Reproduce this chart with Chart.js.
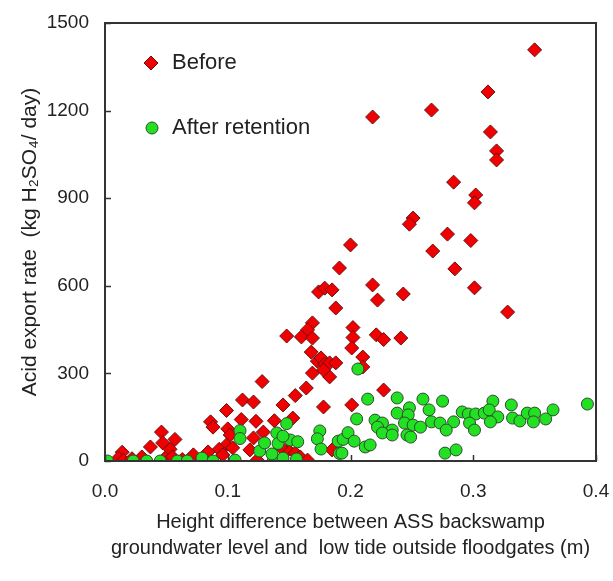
<!DOCTYPE html>
<html>
<head>
<meta charset="utf-8">
<script src="https://cdn.jsdelivr.net/npm/chart.js@4.4.0/dist/chart.umd.min.js"></script>
<style>
  html, body { margin: 0; padding: 0; background: #fff; }
  #wrap { width: 613px; height: 581px; }
</style>
</head>
<body>
<div id="wrap"><canvas id="chart" width="613" height="581"></canvas></div>
<script>
// Séries : [différence de hauteur (m), export d'acide (kg H2SO4/jour)]
const beforeX = [
  0.350, 0.312, 0.266, 0.218, 0.314, 0.319, 0.319, 0.284, 0.302, 0.301,
  0.251, 0.248, 0.279, 0.298, 0.200, 0.267, 0.191, 0.285, 0.218, 0.301,
  0.174, 0.179, 0.185, 0.243, 0.222, 0.188, 0.328, 0.202, 0.202, 0.201,
  0.221, 0.227, 0.241, 0.169, 0.165, 0.148, 0.160, 0.169, 0.210, 0.168,
  0.173, 0.176, 0.179, 0.183, 0.188, 0.210, 0.183, 0.169, 0.178, 0.227,
  0.201, 0.128, 0.164, 0.155, 0.112, 0.121, 0.145, 0.178, 0.099, 0.086,
  0.088, 0.111, 0.123, 0.138, 0.153, 0.046, 0.057, 0.037, 0.047, 0.053,
  0.014, 0.011, 0.030, 0.015, 0.072, 0.022, 0.049, 0.055, 0.100, 0.102,
  0.129, 0.121, 0.099, 0.104, 0.093, 0.084, 0.096, 0.118, 0.124, 0.149,
  0.155, 0.159, 0.165, 0.185, 0.143, 0.063, 0.080
]
const beforeY = [
  1408, 1264, 1202, 1178, 1127, 1062, 1031, 955, 911, 884,
  832, 811, 777, 755, 740, 719, 661, 658, 603, 593,
  579, 592, 586, 572, 551, 524, 510, 457, 423, 387,
  432, 416, 421, 473, 449, 428, 425, 421, 356, 373,
  342, 353, 332, 336, 336, 322, 288, 301, 312, 243,
  192, 272, 250, 224, 209, 202, 192, 185, 173, 134,
  116, 142, 136, 138, 147, 99, 74, 48, 62, 40,
  30, 10, 14, 2, 21, 8, 10, 14, 110, 89,
  99, 79, 55, 45, 40, 31, 21, 38, 3, 38,
  27, 14, 3, 38, 48, 5, 8
]

const afterX = [
  0.002, 0.023, 0.034, 0.045, 0.059, 0.067, 0.079, 0.088, 0.106, 0.137,
  0.145, 0.156, 0.110, 0.110, 0.126, 0.130, 0.140, 0.148, 0.141, 0.151,
  0.157, 0.136, 0.145, 0.175, 0.173, 0.176, 0.190, 0.194, 0.191, 0.198,
  0.206, 0.214, 0.238, 0.259, 0.275, 0.205, 0.248, 0.264, 0.238, 0.247,
  0.291, 0.220, 0.226, 0.244, 0.251, 0.257, 0.266, 0.273, 0.284, 0.278,
  0.222, 0.234, 0.226, 0.234, 0.246, 0.249, 0.203, 0.212, 0.216, 0.277,
  0.286, 0.193, 0.316, 0.331, 0.393, 0.296, 0.302, 0.309, 0.313, 0.320,
  0.314, 0.297, 0.301, 0.332, 0.338, 0.344, 0.350, 0.349, 0.359, 0.365
]
const afterY = [
  0, 0, 0, 0, 0, 0, 10, 0, 3, 0,
  10, 7, 104, 77, 34, 62, 96, 128, 60, 72,
  66, 24, 85, 103, 76, 41, 68, 74, 26, 97,
  315, 212, 216, 212, 205, 144, 182, 175, 164, 158,
  168, 140, 130, 130, 123, 116, 134, 130, 134, 106,
  116, 106, 96, 89, 89, 82, 68, 48, 55, 27,
  38, 27, 205, 192, 195, 161, 161, 164, 175, 151,
  134, 130, 106, 147, 137, 164, 164, 134, 144, 175
]

const seriesLabels = ["Before", "After retention"]
const xTicks = [0, 0.1, 0.2, 0.3, 0.4]
const yTicks = [0, 300, 600, 900, 1200, 1500]

const FONT = "'Liberation Sans', Arial, sans-serif"
const INK = "#222"

function toPoints(xs, ys) {
  return xs.map((x, i) => ({ x: x, y: ys[i] }))
}

// Cadre complet + petites graduations vers l'intérieur + légende dans le graphique
const framePlugin = {
  id: "frame",
  afterDraw(chart) {
    const { ctx, chartArea: a, scales } = chart
    ctx.save()
    ctx.strokeStyle = "#333"
    ctx.lineWidth = 2
    ctx.strokeRect(a.left, a.top, a.right - a.left, a.bottom - a.top)
    ctx.lineWidth = 1.5
    yTicks.forEach((v) => {
      const y = Math.round(scales.y.getPixelForValue(v)) + 0.5
      ctx.beginPath()
      ctx.moveTo(a.left, y)
      ctx.lineTo(a.left + 6, y)
      ctx.stroke()
    })
    xTicks.forEach((v) => {
      const x = Math.round(scales.x.getPixelForValue(v)) + 0.5
      ctx.beginPath()
      ctx.moveTo(x, a.bottom)
      ctx.lineTo(x, a.bottom - 6)
      ctx.stroke()
    })

    // légende
    const items = chart.data.datasets
    items.forEach((ds, i) => {
      const cx = a.left + 46
      const cy = a.top + 40 + i * 65
      ctx.fillStyle = ds.backgroundColor
      ctx.strokeStyle = ds.borderColor
      ctx.lineWidth = 1
      ctx.beginPath()
      if (ds.pointStyle === "rectRot") {
        const r = 7
        ctx.moveTo(cx, cy - r)
        ctx.lineTo(cx + r, cy)
        ctx.lineTo(cx, cy + r)
        ctx.lineTo(cx - r, cy)
        ctx.closePath()
      } else {
        ctx.arc(cx + 1, cy, 6, 0, Math.PI * 2)
      }
      ctx.fill()
      ctx.stroke()
      ctx.fillStyle = INK
      ctx.font = "22px " + FONT
      ctx.textBaseline = "middle"
      ctx.textAlign = "left"
      ctx.fillText(ds.label, cx + 21, cy)
    })
    ctx.restore()
  },
}

const ctx = document.getElementById("chart").getContext("2d")

new Chart(ctx, {
  type: "scatter",
  data: {
    datasets: [
      {
        label: seriesLabels[0],
        data: toPoints(beforeX, beforeY),
        pointStyle: "rectRot",
        pointRadius: 7,
        backgroundColor: "#f00000",
        borderColor: "#6a1010",
        borderWidth: 1,
        order: 2,
      },
      {
        label: seriesLabels[1],
        data: toPoints(afterX, afterY),
        pointStyle: "circle",
        pointRadius: 6,
        backgroundColor: "#22e022",
        borderColor: "#2e4a2e",
        borderWidth: 1,
        order: 1,
      },
    ],
  },
  options: {
    responsive: false,
    animation: false,
    layout: { padding: { top: 23, right: 17, left: 0, bottom: 0 } },
    plugins: {
      legend: { display: false },
      tooltip: { enabled: false },
    },
    scales: {
      x: {
        type: "linear",
        min: 0,
        max: 0.4,
        afterBuildTicks: (s) => { s.ticks = xTicks.map((v) => ({ value: v })) },
        afterFit: (s) => {
          s.height = 120
          s.paddingLeft = 0
          s.paddingRight = 0
        },
        grid: { display: false, drawTicks: false },
        border: { display: false },
        ticks: {
          padding: 19,
          color: INK,
          font: { family: FONT, size: 19 },
          callback: (v) => Number(v).toFixed(1),
        },
        title: {
          display: true,
          text: [
            "Height difference between ASS backswamp",
            "groundwater level and  low tide outside floodgates (m)",
          ],
          color: INK,
          font: { family: FONT, size: 20, lineHeight: 1.3 },
          padding: { top: 10, bottom: 20 },
        },
      },
      y: {
        type: "linear",
        min: 0,
        max: 1500,
        afterBuildTicks: (s) => { s.ticks = yTicks.map((v) => ({ value: v })) },
        afterFit: (s) => {
          s.width = 105
          s.paddingTop = 0
          s.paddingBottom = 0
        },
        grid: { display: false, drawTicks: false },
        border: { display: false },
        ticks: {
          padding: 16,
          color: INK,
          font: { family: FONT, size: 19 },
          callback: (v) => String(v),
        },
        title: {
          display: true,
          text: "Acid export rate  (kg H\u2082SO\u2084/ day)",
          color: INK,
          font: { family: FONT, size: 21 },
          padding: { top: 18, bottom: 0 },
        },
      },
    },
  },
  plugins: [framePlugin],
})
</script>
</body>
</html>
